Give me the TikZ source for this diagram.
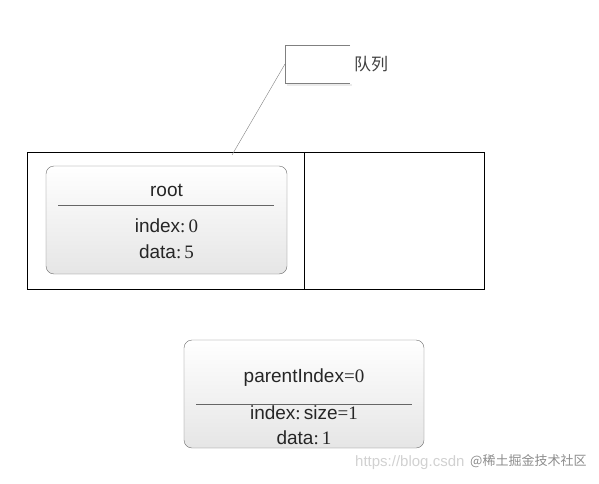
\documentclass[tikz,border=0pt]{standalone}
\usepackage{fontspec}
\setmainfont{Liberation Sans}
\newfontfamily\numfont{Liberation Serif}
\newfontfamily\cjk{Noto Sans CJK SC}
\newcommand{\num}[1]{{\numfont #1}}
\tikzset{
  card/.style={draw=gray!85!black, rounded corners=8pt, top color=white, bottom color=gray!20,
    minimum width=241pt, minimum height=108pt, inner sep=0pt},
  label/.style={font=\fontsize{19}{21}\selectfont, text=black!85, inner sep=0pt},
  mark line/.style={draw=black!60, line width=0.6pt}
}
\begin{document}
\begin{tikzpicture}[x=1pt, y=-1pt]
\useasboundingbox (0,0) rectangle (599,484);
% queue
\node[draw, minimum width=457pt, minimum height=137pt, inner sep=0pt, outer sep=0pt] (queue) at (255.5,220.5) {};
\coordinate (split) at (304,152);
\draw (split) -- (split |- queue.south);
% callout
\node[minimum width=65pt, minimum height=38pt, inner sep=0pt, outer sep=0pt] (callout) at (317.5,64) {};
\draw[draw=black!8, line width=1.5pt] ([shift={(2pt,-2pt)}]callout.south west) -- ([shift={(2pt,-2pt)}]callout.south east);
\draw[draw=gray] (callout.north east) -- (callout.north west) -- (callout.south west) -- (callout.south east);
\node[label, font=\cjk\fontsize{17}{20}\selectfont, text=black!75] (queuename) at (371,64) {队列};
\coordinate (pin) at (232,155);
\draw[draw=gray] (callout.west) -- (pin);
% root
\node[card] (root) at (166.5,220) {};
\node[label] (rootname) at (166.5,190) {root};
\draw[mark line] (58,205) -- (274,205);
\node[label] (rootindex) at (166.5,226) {index\num{:\,0}};
\node[label] (rootdata) at (166.5,252) {data\num{:\,5}};
% child
\node[card, minimum width=240pt] (child) at (304,394) {};
\node[label] (childparent) at (304,378) {parentIndex\num{=0}};
\draw[mark line] (196,404) -- (412,404);
\node[label] (childindex) at (304,413) {index\num{:\,}size\num{=1}};
\node[label] (childdata) at (304,438) {data\num{:\,1}};
% watermark
\node[anchor=west, text=black!18, font=\fontsize{15}{17}\selectfont, inner sep=0pt] (url) at (355,463) {https://blog.csdn};
\node[anchor=west, text=black!45, font=\cjk\fontsize{13}{16}\selectfont, inner sep=0pt] (site) at (470,461) {@稀土掘金技术社区};
\end{tikzpicture}
\end{document}
